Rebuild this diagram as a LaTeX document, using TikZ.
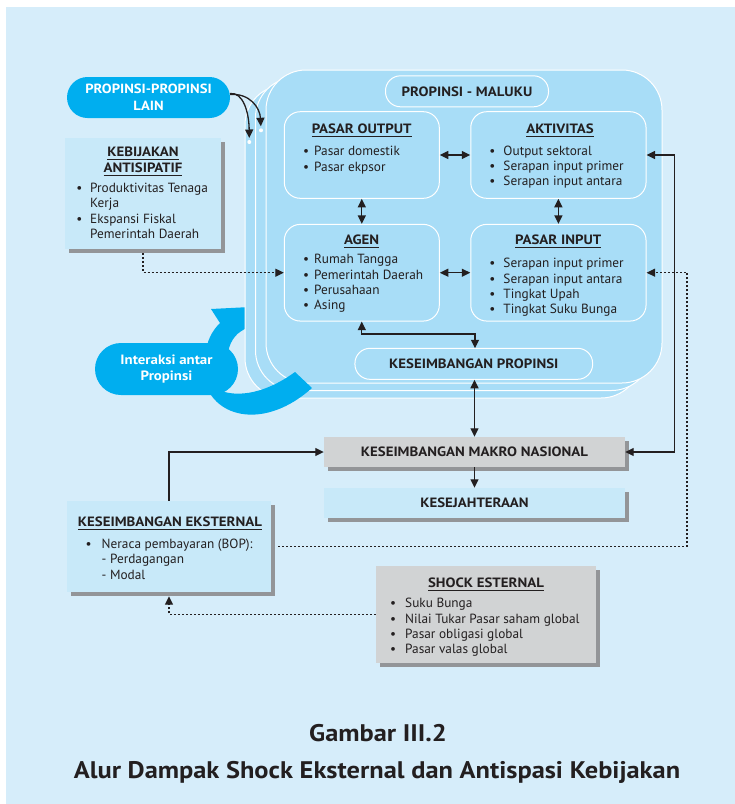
\documentclass[tikz,border=0pt]{standalone}
\usepackage{fontspec}
\setmainfont{PT Sans}[BoldFeatures={FakeStretch=1.1}]
\usetikzlibrary{arrows.meta,shadows}
\definecolor{bgblue}{RGB}{214,237,250}
\definecolor{stackblue}{RGB}{168,221,247}
\definecolor{boxblue}{RGB}{200,233,249}
\definecolor{cyanb}{RGB}{0,174,239}
\definecolor{grayb}{RGB}{209,211,212}
\definecolor{shadowg}{RGB}{147,149,152}
\definecolor{ink}{RGB}{35,31,32}
\newsavebox{\ulbox}
\newcommand{\ulx}[1]{\sbox{\ulbox}{#1}\rlap{\rule[-3.8pt]{\wd\ulbox}{1pt}}\usebox{\ulbox}}
\newcommand{\bul}[1]{\llap{\textbullet\hspace{#1}}}
\tikzset{
 stackbox/.style={draw=white, line width=1pt, fill=stackblue, rounded corners=40pt, inner sep=0pt},
 inbox/.style={draw=white, line width=1pt, fill=stackblue, rounded corners=16pt, inner sep=0pt},
 pillin/.style={draw=white, line width=1pt, fill=stackblue, rounded corners=15pt, inner sep=0pt, font=\fontsize{13.5}{15}\selectfont\bfseries, text=ink},
 cyanpill/.style={fill=cyanb, inner sep=0pt, text=white, align=center, font=\fontsize{13.3}{17.5}\selectfont\bfseries},
 lightbox/.style={fill=boxblue, inner sep=0pt, text=ink, font=\fontsize{13.5}{15}\selectfont\bfseries, general shadow={fill=shadowg, shadow xshift=4pt, shadow yshift=-4pt}},
 graybox/.style={fill=grayb, inner sep=0pt, text=ink, font=\fontsize{13.5}{15}\selectfont\bfseries, general shadow={fill=shadowg, shadow xshift=4pt, shadow yshift=-4pt}},
 ttl/.style={inner sep=0pt, font=\fontsize{13.5}{16}\selectfont\bfseries, text=ink, anchor=base},
 lst/.style={inner sep=0pt, font=\fontsize{13.3}{15.3}\selectfont, text=ink, anchor=base west},
 conn/.style={draw=ink, line width=1.3pt},
 dotl/.style={draw=ink, line width=1.2pt, dash pattern=on 2pt off 2pt},
 capt/.style={inner sep=0pt, font=\fontsize{24}{28}\selectfont\bfseries, text=ink, anchor=base},
}
\begin{document}
\begin{tikzpicture}[x=1pt,y=-1pt,>={Triangle[length=8.5pt,width=8pt]}]
\useasboundingbox (0,0) rectangle (735,804);
\fill[white] (0,0) rectangle (735,804);
\fill[bgblue] (6,7) rectangle (735,804);

% interaction arrow (upper part, behind the stack)
\fill[cyanb] (205,356) .. controls (207,340) and (212,331) .. (220,323) -- (211,309) -- (270,306) -- (262,352) -- (247,328) .. controls (238,332) and (231,338) .. (228,352) -- (228,356) -- cycle;

% stack
\node[stackbox, minimum width=396pt, minimum height=313pt] (st2) at (443,241.5) {};
\node[stackbox, minimum width=396pt, minimum height=313pt] (st1) at (453.5,234) {};
\node[stackbox, minimum width=396pt, minimum height=313pt] (st0) at (464,226.5) {};

% interaction arrow (lower part, over the stack)
\fill[cyanb] (205,382) .. controls (215,418) and (265,430) .. (312,388) -- (295,372) .. controls (262,396) and (232,398) .. (215,388) -- cycle;

\node[cyanpill, rounded corners=20.5pt, minimum width=163pt, minimum height=41pt] (pl) at (148.5,97.5) {PROPINSI-PROPINSI\\LAIN};
\node[cyanpill, rounded corners=26pt, minimum width=143pt, minimum height=52pt, font=\fontsize{13.5}{16.6}\selectfont\bfseries] (ia) at (166.5,369) {Interaksi antar\\Propinsi};

% inner boxes
\node[pillin, minimum width=163pt, minimum height=31pt] (pm) at (467,91.3) {PROPINSI - MALUKU};
\node[inbox, minimum width=155pt, minimum height=86.6pt] (po) at (361.8,155) {};
\node[inbox, minimum width=175.3pt, minimum height=86.6pt] (ak) at (558.4,155) {};
\node[inbox, minimum width=155pt, minimum height=96.7pt] (ag) at (361.8,272.7) {};
\node[inbox, minimum width=175.3pt, minimum height=96.7pt] (pi) at (558.4,272.7) {};
\node[pillin, minimum width=237.7pt, minimum height=31pt] (kp) at (473.8,363.8) {KESEIMBANGAN PROPINSI};
\coordinate (kpTop) at (475,348.3);

\node[ttl] (poT) at (361.7,133.5) {\ulx{PASAR OUTPUT}};
\node[lst] (poL) at (314,155.2) {\begin{tabular}[t]{@{}l@{}}\bul{5pt}Pasar domestik\\[1.3pt]\bul{5pt}Pasar ekpsor\end{tabular}};
\node[ttl] (akT) at (560,133.5) {\ulx{AKTIVITAS}};
\node[lst] (akL) at (503.3,155.2) {\begin{tabular}[t]{@{}l@{}}\bul{8pt}Output sektoral\\\bul{8pt}Serapan input primer\\\bul{8pt}Serapan input antara\end{tabular}};
\node[ttl] (agT) at (361.7,244.5) {\ulx{AGEN}};
\node[lst] (agL) at (314,263.8) {\begin{tabular}[t]{@{}l@{}}\bul{5pt}Rumah Tangga\\\bul{5pt}Pemerintah Daerah\\\bul{5pt}Perusahaan\\\bul{5pt}Asing\end{tabular}};
\node[ttl] (piT) at (558.3,244.5) {\ulx{PASAR INPUT}};
\node[lst] (piL) at (503.3,267.8) {\begin{tabular}[t]{@{}l@{}}\bul{8pt}Serapan input primer\\\bul{8pt}Serapan input antara\\\bul{8pt}Tingkat Upah\\\bul{8pt}Tingkat Suku Bunga\end{tabular}};

% outside boxes
\node[lightbox, minimum width=156pt, minimum height=111pt] (kb) at (143,193.5) {};
\node[ttl] (kbT) at (143,156.5) {\begin{tabular}[t]{@{}c@{}}\ulx{KEBIJAKAN}\\\ulx{ANTISIPATIF}\end{tabular}};
\node[lst] (kbL) at (90,192.5) {\begin{tabular}[t]{@{}l@{}}\bul{7.8pt}Produktivitas Tenaga\\Kerja\\\bul{7.8pt}Ekspansi Fiskal\\Pemerintah Daerah\end{tabular}};

\node[graybox, minimum width=301pt, minimum height=30pt] (kmn) at (474.5,452) {KESEIMBANGAN MAKRO NASIONAL};
\node[lightbox, minimum width=301pt, minimum height=30pt] (ks) at (474.5,503) {KESEJAHTERAAN};

\node[lightbox, minimum width=204pt, minimum height=91pt] (ke) at (169,546.5) {};
\node[ttl] (keT) at (170,526) {\ulx{KESEIMBANGAN EKSTERNAL}};
\node[lst] (keL) at (101.5,548.5) {\begin{tabular}[t]{@{}l@{}}\bul{10pt}Neraca pembayaran (BOP):\\- Perdagangan\\- Modal\end{tabular}};

\node[graybox, minimum width=220pt, minimum height=97pt] (se) at (486,614.5) {};
\node[ttl] (seT) at (486,587.5) {\ulx{SHOCK ESTERNAL}};
\node[lst] (seL) at (405,607.8) {\begin{tabular}[t]{@{}l@{}}\bul{9pt}Suku Bunga\\\bul{9pt}Nilai Tukar Pasar saham global\\\bul{9pt}Pasar obligasi global\\\bul{9pt}Pasar valas global\end{tabular}};

% connectors inside
\draw[conn,<->] (po.east) -- (ak.west);
\draw[conn,<->] (ag.east) -- (pi.west);
\draw[conn,<->] (po.south) -- (ag.north);
\draw[conn,<->] (ak.south) -- (pi.north);
\draw[conn,<->] (ag.south) -- ++(0,12.3) -| (kpTop);
\draw[conn,<->] (kp.south -| kmn.north) -- (kmn.north);
\draw[conn,->] (kmn.south) -- (ks.north);
\draw[conn,<->] (ak.east) -- ++(28,0) |- (kmn.east);
\draw[conn,->] (ke.north) |- (kmn.west);

\coordinate (dR) at (687,272.7);
\draw[dotl,->] ([xshift=7pt]ke.east) -| (dR) -- (pi.east);
\draw[dotl,->] ([yshift=-4pt]kb.south) |- (ag.west);
\draw[dotl,->] (se.west) -| ([yshift=-4pt]ke.south);

% arrows from other provinces
\coordinate (dotA) at (249.3,142);
\coordinate (dotB) at (261,130.3);
\draw[conn,->,shorten >=4pt] ([yshift=4pt]pl.east) .. controls (243,92) and (249,112) .. (dotA);
\draw[conn,->,shorten >=4pt] ([yshift=3pt]pl.east) .. controls (250,93) and (260,108) .. (dotB);
\fill[white] (dotA) circle (2pt);
\fill[white] (dotB) circle (2pt);

% caption
\node[capt] (cap1) at (378,741) {Gambar III.2};
\node[capt] (cap2) at (377,778) {Alur Dampak Shock Eksternal dan Antispasi Kebijakan};
\end{tikzpicture}
\end{document}
